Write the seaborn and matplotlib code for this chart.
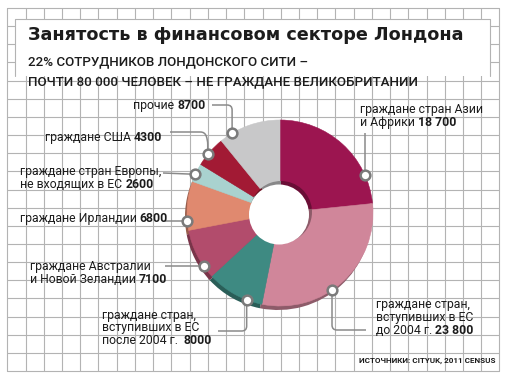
import numpy as np
import matplotlib
matplotlib.use("Agg")
import matplotlib.pyplot as plt
import seaborn as sns
from matplotlib.path import Path
from matplotlib.patches import PathPatch, Circle, Rectangle
from matplotlib import font_manager

# ---------------- data ----------------
categories = ["Азия и Африка", "ЕС до 2004", "ЕС после 2004", "Австралия и Новая Зеландия",
              "Ирландия", "Европа вне ЕС", "США", "прочие"]
values = [18700, 23800, 8000, 7100, 6800, 2600, 4300, 8700]
value_labels = ["18 700", "23 800", "8000", "7100", "6800", "2600", "4300", "8700"]
label_lines = [
    ["граждане стран Азии", "и Африки "],
    ["граждане стран,", "вступивших в ЕС", "до 2004 г. "],
    ["граждане стран,", "вступивших в ЕС", "после 2004 г.  "],
    ["граждане Австралии", "и Новой Зеландии "],
    ["граждане Ирландии "],
    ["граждане стран Европы,", "не входящих в ЕС "],
    ["граждане США "],
    ["прочие "],
]
colors = ["#9c1550", "#d0869a", "#3e8a82", "#b24c6c", "#e0896f", "#a9d2cf", "#a21a34", "#c8c8c9"]
title = "Занятость в финансовом секторе Лондона"
subtitle = ["22% СОТРУДНИКОВ ЛОНДОНСКОГО СИТИ –",
            "ПОЧТИ 80 000 ЧЕЛОВЕК – НЕ ГРАЖДАНЕ ВЕЛИКОБРИТАНИИ"]
source = "ИСТОЧНИКИ: CITYUK, 2011 CENSUS"

# ---------------- style ----------------
sns.set_theme(style="white")
avail = {f.name for f in font_manager.fontManager.ttflist}
label_font = "Roboto" if "Roboto" in avail else "DejaVu Sans"
narrow = "Liberation Sans Narrow" if "Liberation Sans Narrow" in avail else label_font
plt.rcParams["font.family"] = [label_font, "DejaVu Sans"]
ink = "#1c1c1c"
grid_c = "#b3b3b3"
lead_c = "#8a8a8a"

W, H = 506, 380
fig = plt.figure(figsize=(W / 100, H / 100), dpi=100)
ax = fig.add_axes([0, 0, 1, 1])
palette = sns.color_palette(colors)

# pie geometry (pixels)
cx, cy, R = 280, 213, 93
r_in = 30

# y axis is inverted later -> counterclock in data = clockwise on screen
dark = [tuple(np.array(c) * 0.68) for c in palette]
ax.pie(values, colors=dark, startangle=-90, counterclock=True, center=(cx - 2, cy + 4),
       radius=R, wedgeprops=dict(linewidth=0))
wedges, _ = ax.pie(values, colors=palette, startangle=-90, counterclock=True, center=(cx, cy),
                   radius=R, wedgeprops=dict(linewidth=0.4))
for w, c in zip(wedges, palette):
    w.set_edgecolor(c)
ax.pie(values, colors=dark, startangle=-90, counterclock=True, center=(cx + 1, cy - 1),
       radius=r_in + 1, wedgeprops=dict(linewidth=0))
ax.add_patch(Circle((cx - 1, cy + 1.5), r_in, facecolor="white", edgecolor="none", zorder=3))

ax.set_xlim(0, W)
ax.set_ylim(H, 0)
ax.set_aspect("equal")
ax.axis("off")

# background grid
gx0, gx1, ncol = 7.3, 499.5, 27
gy0, gy1, nrow = 8, 371, 20
for i in range(ncol + 1):
    x = gx0 + (gx1 - gx0) * i / ncol
    ax.plot([x, x], [gy0, gy1], color=grid_c, lw=0.8, zorder=-5)
for j in range(nrow + 1):
    y = gy0 + (gy1 - gy0) * j / nrow
    ax.plot([gx0, gx1], [y, y], color=grid_c, lw=0.8, zorder=-5)

# header box
ax.add_patch(Rectangle((15, 19), 475, 57, facecolor="white", edgecolor="none", zorder=-4))
ax.plot([15, 15, 490, 490], [76, 19, 19, 76], color=grid_c, lw=0.8, zorder=-3)

ax.text(28, 40, title, fontsize=12.7, fontweight="bold", family="DejaVu Sans",
        color=ink, va="baseline", ha="left")
ax.text(28, 65, subtitle[0], fontsize=9.6, fontweight="medium", color=ink, va="baseline")
ax.text(28, 85, subtitle[1], fontsize=9.6, fontweight="medium", color=ink, va="baseline")
ax.text(496, 363, source, fontsize=5.8, fontweight="bold", family=narrow, color=ink,
        ha="right", va="baseline")

# label layout: text origin (left x, first baseline), line step, anchor angle
text_pos = [(360, 113), (376, 308), (102, 319), (30, 270), (20, 222), (20, 175), (45, 141), (133, 109)]
line_step = [13, 13, 12.5, 13, 13, 13, 13, 13]
anchor_deg = [23.8, 304, 249, 215, 185, 155.4, 141, 121]


def rounded_path(pts, rad=5):
    verts = [pts[0]]
    codes = [Path.MOVETO]
    for i in range(1, len(pts) - 1):
        p0, p1, p2 = (np.array(p, float) for p in (pts[i - 1], pts[i], pts[i + 1]))
        d1, d2 = p1 - p0, p2 - p1
        l1, l2 = np.hypot(*d1), np.hypot(*d2)
        rr = min(rad, l1 / 2, l2 / 2)
        a = p1 - d1 / l1 * rr
        b = p1 + d2 / l2 * rr
        verts += [tuple(a), tuple(p1), tuple(b)]
        codes += [Path.LINETO, Path.CURVE3, Path.CURVE3]
    verts.append(pts[-1])
    codes.append(Path.LINETO)
    return Path(verts, codes)


anchors = []
for a in anchor_deg:
    t = np.deg2rad(a)
    anchors.append((cx + R * np.cos(t), cy - R * np.sin(t)))

leaders = []
(ax0, ay0) = anchors[0]; leaders.append([(ax0, 133), (ax0, ay0)])
(ax1, ay1) = anchors[1]; leaders.append([(ax1, ay1), (ax1, 330), (366, 330)])
(ax2, ay2) = anchors[2]; leaders.append([(ax2, ay2), (ax2, 331), (218, 331)])
(ax3, ay3) = anchors[3]; leaders.append([(165, ay3), (ax3, ay3)])
(ax4, ay4) = anchors[4]; leaders.append([(165, ay4), (ax4, ay4)])
(ax5, ay5) = anchors[5]; leaders.append([(163, 173), (ax5, ay5)])
(ax6, ay6) = anchors[6]; leaders.append([(170, 132), (ax6 - 3, 132), (ax6, 140), (ax6, ay6)])
(ax7, ay7) = anchors[7]; leaders.append([(212, 105), (ax7, 105), (ax7, ay7)])

for pts in leaders:
    ax.add_patch(PathPatch(rounded_path(pts), facecolor="none", edgecolor=lead_c, lw=1.1,
                           zorder=4, capstyle="butt"))
for (px, py) in anchors:
    ax.plot(px, py, marker="o", ms=7, mfc="white", mec="#7a7a7a", mew=1.8, zorder=5)

for lines, val, (tx, ty), step in zip(label_lines, value_labels, text_pos, line_step):
    for k, ln in enumerate(lines):
        t = ax.text(tx, ty + k * step, ln, fontsize=8.8, color=ink, va="baseline", ha="left",
                    zorder=6)
    ax.annotate(val, xy=(1, 0), xycoords=t, fontsize=8.8, fontweight="bold", color=ink,
                va="bottom", ha="left", zorder=6)

fig.savefig("out.png", dpi=100)
